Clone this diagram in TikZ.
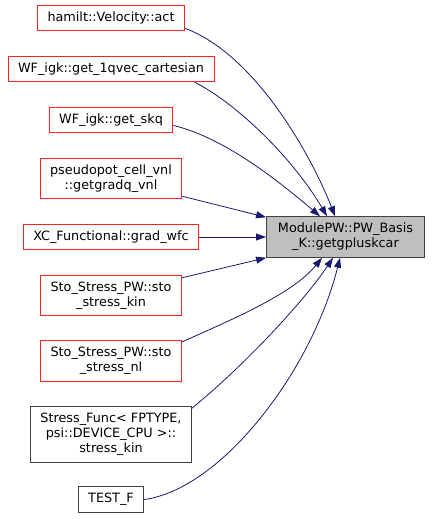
\documentclass[tikz,border=0pt]{standalone}
\usepackage{fontspec}
\setmainfont{DejaVu Sans}
\usetikzlibrary{arrows.meta}
\definecolor{edgeblue}{HTML}{191970}
\definecolor{boxred}{HTML}{FF2020}
\definecolor{boxgray}{HTML}{404040}
\definecolor{mainfill}{HTML}{BFBFBF}

\begin{document}
\begin{tikzpicture}[x=1pt, y=1pt,
    fn/.style={draw, line width=0.8pt, rectangle, align=center,
        inner xsep=10pt, inner ysep=6.5pt, font=\fontsize{12.8}{15}\selectfont},
    caller/.style={fn, draw=boxred},
    plain/.style={fn, draw=boxgray},
    target/.style={fn, draw=boxgray, fill=mainfill, inner xsep=11.5pt},
    edge/.style={draw=edgeblue, line width=0.8pt,
        {Triangle[length=10pt,width=7pt,fill=edgeblue]}-}]
    % Fixed Bounding Box for alignment
    \useasboundingbox (0,0) rectangle (432,-519);

    % Callers
    \node[caller] (velact) at (111,-18) {hamilt::Velocity::act};
    \node[caller] (qvec) at (111,-69) {WF\_igk::get\_1qvec\_cartesian};
    \node[caller] (skq) at (111,-120) {WF\_igk::get\_skq};
    \node[caller] (gradq) at (111,-178.5) {pseudopot\_cell\_vnl\\::getgradq\_vnl};
    \node[caller] (gradwfc) at (111,-237) {XC\_Functional::grad\_wfc};
    \node[caller] (stokin) at (111,-295.5) {Sto\_Stress\_PW::sto\\\_stress\_kin};
    \node[caller] (stonl) at (111,-361) {Sto\_Stress\_PW::sto\\\_stress\_nl};
    \node[plain] (stressfunc) at (111,-434.5) {Stress\_Func< FPTYPE,\\psi::DEVICE\_CPU >::\\stress\_kin};
    \node[plain] (testf) at (111,-499.5) {TEST\_F};

    % Callee
    \node[target] (main) at (345.5,-237) {ModulePW::PW\_Basis\\\_K::getgpluskcar};

    % Edges (arrow tip sits on the callee)
    \draw[edge] ([xshift=-10.5pt]main.north) .. controls (310,-152) and (253,-53) .. (velact.-8);
    \draw[edge] ([xshift=-18.5pt]main.north) .. controls (294,-160) and (239,-105) .. (qvec.-9.5);
    \draw[edge] ([xshift=-25.5pt]main.north) .. controls (282,-184) and (226,-138) .. (skq.-5);
    \draw[edge] ([yshift=-1pt]main.north west) -- (gradq.-14);
    \draw[edge] (main.west) -- (gradwfc.east);
    \draw[edge] (main.south west) -- (stokin.14);
    \draw[edge] ([xshift=-23.5pt]main.south) .. controls (292,-295) and (226,-322) .. (stonl.15);
    \draw[edge] ([xshift=-12.5pt]main.south) .. controls (305,-300) and (245,-365) .. (stressfunc.18);
    \draw[edge] ([xshift=-5.5pt]main.south) .. controls (312,-370) and (222,-489) .. (testf.east);
\end{tikzpicture}
\end{document}
